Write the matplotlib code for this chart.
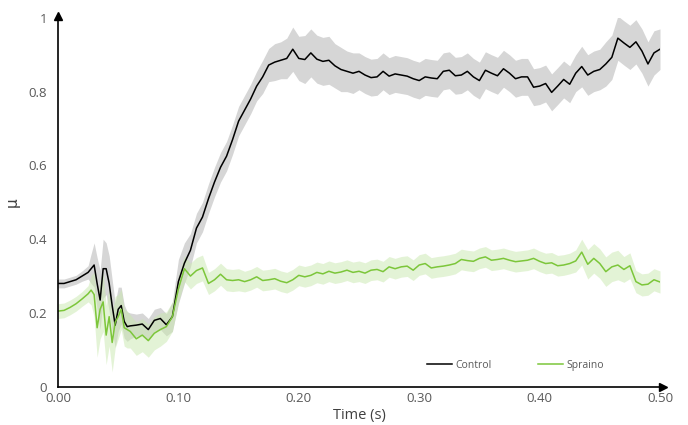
import matplotlib.pyplot as plt
import numpy as np

plt.rcParams['font.family'] = ['Open Sans', 'DejaVu Sans']

# tempo (s): passo 0.005, mais fino na zona de 0.025-0.06
time = ([0.000, 0.005, 0.010, 0.015, 0.020, 0.025,
         0.0275, 0.030, 0.0325, 0.035, 0.0375, 0.040, 0.0425, 0.045,
         0.0475, 0.050, 0.0525, 0.055, 0.0575, 0.060]
        + [round(0.065 + 0.005 * i, 3) for i in range(88)])

control = [0.280, 0.280, 0.285, 0.290, 0.300, 0.310,
           0.320, 0.330, 0.280, 0.235, 0.320, 0.320, 0.280, 0.220,
           0.167, 0.210, 0.220, 0.177, 0.163, 0.165,
           0.167, 0.170, 0.155, 0.180, 0.185, 0.168, 0.190, 0.285, 0.335, 0.370,
           0.430, 0.460, 0.510, 0.555, 0.595, 0.625, 0.670, 0.720, 0.750, 0.780,
           0.815, 0.840, 0.872, 0.880, 0.885, 0.890, 0.915, 0.890, 0.887, 0.905,
           0.888, 0.882, 0.885, 0.870, 0.860, 0.855, 0.850, 0.855, 0.845, 0.838,
           0.840, 0.855, 0.842, 0.848, 0.845, 0.842, 0.835, 0.830, 0.840, 0.837,
           0.835, 0.855, 0.858, 0.843, 0.845, 0.855, 0.840, 0.830, 0.858, 0.850,
           0.843, 0.862, 0.850, 0.835, 0.840, 0.840, 0.812, 0.815, 0.822, 0.798,
           0.815, 0.833, 0.820, 0.850, 0.868, 0.845, 0.855, 0.860, 0.875, 0.893,
           0.945, 0.932, 0.920, 0.935, 0.910, 0.875, 0.905, 0.915]

control_err = [0.012, 0.012, 0.012, 0.012, 0.014, 0.018,
               0.040, 0.060, 0.070, 0.080, 0.080, 0.070, 0.075, 0.070,
               0.060, 0.060, 0.050, 0.045, 0.040, 0.035,
               0.030, 0.030, 0.030, 0.030, 0.030, 0.030, 0.040, 0.060, 0.055, 0.045,
               0.040, 0.040, 0.040, 0.040, 0.040, 0.040, 0.040, 0.040, 0.040, 0.040,
               0.040, 0.045, 0.045, 0.050, 0.050, 0.055, 0.060, 0.060, 0.065, 0.065,
               0.065, 0.065, 0.065, 0.060, 0.060, 0.055, 0.055, 0.050, 0.050, 0.050,
               0.050, 0.050, 0.050, 0.050, 0.050, 0.050, 0.050, 0.050, 0.050, 0.050,
               0.050, 0.050, 0.050, 0.050, 0.050, 0.050, 0.050, 0.050, 0.050, 0.050,
               0.050, 0.050, 0.050, 0.050, 0.050, 0.050, 0.050, 0.050, 0.050, 0.050,
               0.050, 0.050, 0.050, 0.050, 0.055, 0.055, 0.055, 0.055, 0.060, 0.060,
               0.060, 0.060, 0.060, 0.060, 0.060, 0.060, 0.060, 0.055]

spraino = [0.205, 0.207, 0.215, 0.225, 0.238, 0.252,
           0.262, 0.250, 0.160, 0.210, 0.230, 0.140, 0.190, 0.120,
           0.175, 0.190, 0.210, 0.160, 0.155, 0.150,
           0.130, 0.140, 0.125, 0.145, 0.155, 0.163, 0.190, 0.265, 0.320, 0.300,
           0.315, 0.322, 0.280, 0.290, 0.305, 0.290, 0.288, 0.290, 0.285, 0.290,
           0.298, 0.288, 0.290, 0.293, 0.286, 0.282, 0.290, 0.302, 0.298, 0.302,
           0.310, 0.306, 0.313, 0.308, 0.311, 0.316, 0.310, 0.313, 0.308, 0.316,
           0.318, 0.312, 0.325, 0.320, 0.325, 0.327, 0.316, 0.330, 0.334, 0.322,
           0.325, 0.327, 0.330, 0.334, 0.345, 0.342, 0.340, 0.348, 0.352, 0.343,
           0.345, 0.348, 0.343, 0.339, 0.341, 0.343, 0.348, 0.340, 0.334, 0.336,
           0.328, 0.330, 0.334, 0.341, 0.365, 0.332, 0.348, 0.334, 0.312, 0.325,
           0.330, 0.318, 0.328, 0.285, 0.276, 0.278, 0.290, 0.284]

spraino_err = [0.020, 0.020, 0.020, 0.020, 0.020, 0.022,
               0.040, 0.060, 0.080, 0.080, 0.080, 0.080, 0.080, 0.080,
               0.070, 0.060, 0.055, 0.050, 0.050, 0.045,
               0.045, 0.045, 0.045, 0.045, 0.045, 0.040, 0.040, 0.035, 0.035, 0.035,
               0.035, 0.035, 0.030, 0.030, 0.030, 0.030, 0.030, 0.030, 0.028, 0.028,
               0.028, 0.028, 0.028, 0.028, 0.028, 0.028, 0.028, 0.028, 0.028, 0.028,
               0.028, 0.028, 0.028, 0.028, 0.028, 0.028, 0.028, 0.028, 0.028, 0.028,
               0.028, 0.028, 0.028, 0.028, 0.028, 0.028, 0.028, 0.028, 0.028, 0.028,
               0.028, 0.028, 0.028, 0.028, 0.028, 0.028, 0.028, 0.028, 0.028, 0.028,
               0.028, 0.028, 0.028, 0.028, 0.028, 0.028, 0.028, 0.028, 0.028, 0.028,
               0.028, 0.028, 0.028, 0.030, 0.035, 0.040, 0.040, 0.040, 0.040, 0.040,
               0.040, 0.035, 0.035, 0.030, 0.030, 0.030, 0.030, 0.030]

xticks = [0.0, 0.1, 0.2, 0.3, 0.4, 0.5]
yticks = [0, 0.2, 0.4, 0.6, 0.8, 1]

t = np.array(time)
c = np.array(control)
ce = np.array(control_err)
s = np.array(spraino)
se = np.array(spraino_err)

fig = plt.figure(figsize=(6.88, 4.25), dpi=100)
ax = fig.add_axes([0.0843, 0.09, 0.875, 0.868])

# bandas de erro
ax.fill_between(t, c - ce, c + ce, color='#d6d6d6', linewidth=0)
ax.fill_between(t, s - se, s + se, color='#c9e8ae', alpha=0.5, linewidth=0)

ax.plot(t, c, color='black', linewidth=1.1, label='Control')
ax.plot(t, s, color='#7cc63a', linewidth=1.1, label='Spraino')

ax.set_xlim(0, 0.5)
ax.set_ylim(0, 1)
ax.set_xticks(xticks)
ax.set_xticklabels([f'{v:.2f}' for v in xticks])
ax.set_yticks(yticks)
ax.set_yticklabels(['0', '0.2', '0.4', '0.6', '0.8', '1'])
ax.tick_params(length=0, labelsize=9.5, colors='#595959')
ax.tick_params(axis='x', pad=4)
ax.tick_params(axis='y', pad=8)

for side in ['top', 'right']:
    ax.spines[side].set_visible(False)
for side in ['left', 'bottom']:
    ax.spines[side].set_linewidth(1.2)

# setas nos eixos
ax.plot(1.005, 0, '>k', markersize=6, transform=ax.transAxes, clip_on=False)
ax.plot(0, 1.005, '^k', markersize=6, transform=ax.transAxes, clip_on=False)

ax.set_xlabel('Time (s)', fontsize=10.5, color='#404040')
ax.xaxis.set_label_coords(0.5, -0.058)
ax.set_ylabel('µ', fontsize=11, color='#404040', family=['DejaVu Sans'])
ax.yaxis.set_label_coords(-0.063, 0.5)

leg = ax.legend(loc='center', bbox_to_anchor=(0.76, 0.058), ncol=2, frameon=False,
                fontsize=7.5, handlelength=2.4, handletextpad=0.3, columnspacing=4.5)
for txt in leg.get_texts():
    txt.set_color('#595959')

fig.savefig('out.png', dpi=100)
